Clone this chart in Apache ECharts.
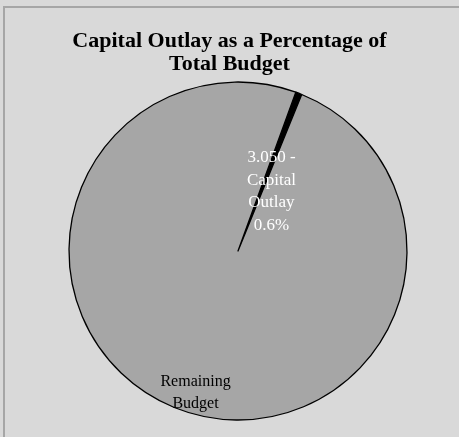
<!DOCTYPE html>
<html>
<head>
<meta charset="utf-8">
<script src="https://cdn.jsdelivr.net/npm/echarts@6/dist/echarts.min.js"></script>
<style>
  html, body { margin: 0; padding: 0; background: #ffffff; }
  #chart { width: 459px; height: 437px; }
</style>
</head>
<body>
<div id="chart"></div>
<script>
// Budget split data
const categories = ['Capital Outlay', 'Remaining Budget'];
const values = [3.050, 505];
const sliceColors = ['#000000', '#a6a6a6'];

const chart = echarts.init(document.getElementById('chart'), null, { renderer: 'canvas' });

const total = values.reduce((a, b) => a + b, 0);

const data = categories.map((name, i) => ({
  name: name,
  value: values[i],
  itemStyle: { color: sliceColors[i] }
}));

// Capital slice: value, name and percent in white; remaining slice: name only
data[0].label = {
  formatter: p => p.value.toFixed(3) + ' -\nCapital\nOutlay\n' + (p.value / total * 100).toFixed(1) + '%',
  color: '#ffffff',
  fontSize: 17,
  lineHeight: 22.5,
  offset: [2, 22]
};
data[1].label = {
  formatter: () => 'Remaining\nBudget',
  color: '#000000',
  fontSize: 16,
  lineHeight: 22,
  offset: [-11, 60]
};

chart.setOption({
  backgroundColor: '#d9d9d9',
  animation: false,
  title: {
    text: 'Capital Outlay as a Percentage of\nTotal Budget',
    left: 'center',
    top: 25,
    textStyle: {
      fontFamily: 'Liberation Serif',
      fontWeight: 'bold',
      fontSize: 22,
      lineHeight: 23,
      color: '#000000'
    }
  },
  graphic: [{
    type: 'rect',
    shape: { x: 4, y: 7, width: 470, height: 450 },
    style: { fill: null, stroke: '#a6a6a6', lineWidth: 2 },
    silent: true
  }],
  series: [{
    type: 'pie',
    center: [238, 251],
    radius: [0, 169],
    startAngle: 70,
    clockwise: true,
    label: {
      show: true,
      position: 'inside',
      fontFamily: 'Liberation Serif',
      align: 'center'
    },
    labelLine: { show: false },
    itemStyle: { borderColor: '#000000', borderWidth: 1.3 },
    emphasis: { disabled: true },
    data: data
  }]
});
</script>
</body>
</html>
